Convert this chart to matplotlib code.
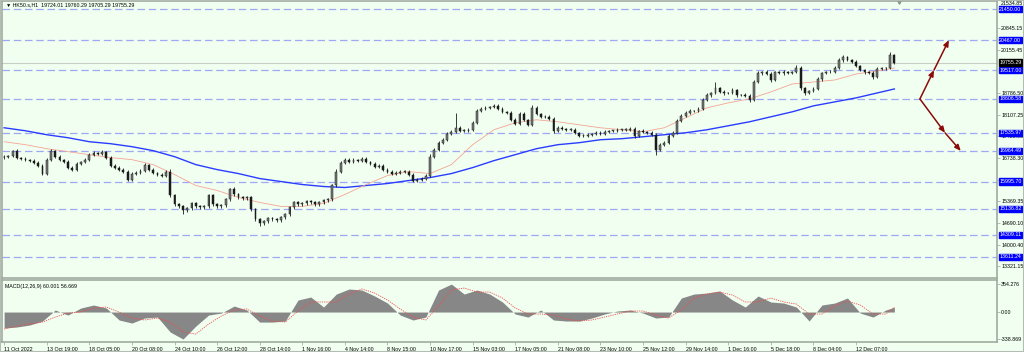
import matplotlib
matplotlib.use('Agg')
import matplotlib.pyplot as plt
import matplotlib.transforms as mtransforms
from matplotlib.patches import Rectangle
import numpy as np

plt.rcParams['font.family'] = ['Liberation Sans', 'DejaVu Sans']

# HK50 H1 closes (one value per bar)
close = [16783, 16815, 16972, 16752, 16720, 16689, 16657, 16594, 16500, 16248,
         16689, 16972, 16783, 16689, 16626, 16437, 16374, 16563, 16626, 16689,
         16846, 16909, 16878, 16941, 16752, 16500, 16437, 16374, 16311, 16059,
         16248, 16280, 16343, 16531, 16374, 16280, 16217, 16185, 16311, 15556,
         15273, 15210, 15084, 15147, 15304, 15210, 15178, 15210, 15556, 15273,
         15210, 15241, 15430, 15776, 15588, 15493, 15462, 15493, 15115, 14801,
         14675, 14738, 14832, 14801, 14769, 14863, 14958, 15178, 15336, 15273,
         15304, 15367, 15336, 15273, 15336, 15399, 15430, 15871, 16311, 16594,
         16689, 16626, 16689, 16657, 16720, 16626, 16563, 16468, 16500, 16374,
         16311, 16248, 16280, 16311, 16311, 16217, 16028, 16059, 16091, 16185,
         16783, 17003, 17224, 17318, 17507, 17570, 17696, 17601, 17601, 17633,
         17853, 18231, 18294, 18325, 18357, 18388, 18294, 18199, 18168, 17948,
         17822, 18136, 17948, 17790, 18325, 18136, 18042, 18042, 17979, 17601,
         17696, 17664, 17633, 17633, 17538, 17444, 17444, 17476, 17507, 17538,
         17507, 17570, 17601, 17601, 17633, 17633, 17633, 17664, 17444, 17601,
         17570, 17538, 17476, 17003, 17161, 17224, 17444, 17538, 17916, 18073,
         18168, 18231, 18231, 18294, 18577, 18734, 18797, 18955, 18829, 18797,
         18797, 18892, 18734, 18734, 18703, 18577, 19143, 19427, 19458, 19395,
         19206, 19458, 19427, 19458, 19427, 19458, 19584, 18955, 18797, 18860,
         18923, 19238, 19427, 19458, 19458, 19584, 19836, 19930, 19836, 19773,
         19647, 19521, 19458, 19427, 19301, 19553, 19584, 19584, 19993, 19755]
first_open = 16760
wick_up = [40, 35, 30, 45, 30, 40, 35, 50, 40, 45,
           60, 40, 35, 45, 30, 40, 55, 45, 35, 50,
           40, 45, 35, 40, 30, 45, 40, 35, 50, 40,
           45, 35, 40, 50, 35, 40, 30, 45, 40, 70,
           50, 40, 45, 35, 50, 40, 35, 45, 40, 55,
           40, 45, 50, 30, 40, 35, 45, 40, 50, 45,
           40, 35, 50, 40, 45, 35, 50, 60, 45, 40,
           35, 50, 40, 45, 35, 40, 50, 60, 70, 55,
           45, 40, 50, 35, 45, 40, 35, 50, 40, 45,
           35, 40, 45, 35, 50, 40, 35, 45, 40, 60,
           70, 60, 50, 55, 45, 50, 470, 60, 45, 50,
           60, 60, 45, 50, 40, 60, 45, 50, 40, 55,
           60, 45, 50, 40, 95, 45, 40, 50, 45, 60,
           45, 40, 35, 45, 40, 35, 45, 40, 35, 45,
           40, 45, 35, 40, 45, 35, 40, 50, 45, 40,
           45, 35, 40, 50, 60, 45, 55, 50, 60, 45,
           50, 45, 40, 55, 60, 50, 45, 188, 45, 50,
           40, 55, 45, 40, 50, 45, 60, 55, 45, 50,
           60, 45, 40, 50, 45, 40, 95, 50, 45, 40,
           60, 55, 45, 40, 50, 55, 60, 60, 45, 40,
           50, 45, 40, 45, 50, 55, 40, 45, 95, 40]
wick_dn = [45, 40, 50, 35, 40, 45, 35, 40, 50, 30,
           40, 45, 50, 35, 45, 40, 35, 45, 40, 35,
           45, 35, 40, 45, 50, 40, 35, 45, 50, 40,
           40, 45, 35, 40, 50, 45, 40, 35, 45, 60,
           60, 50, 120, 45, 40, 50, 45, 40, 50, 45,
           45, 40, 35, 45, 50, 40, 45, 40, 55, 60,
           95, 50, 40, 45, 50, 40, 45, 40, 50, 45,
           40, 45, 35, 40, 50, 45, 40, 35, 40, 45,
           40, 50, 35, 45, 40, 45, 50, 40, 45, 50,
           45, 40, 50, 45, 40, 55, 60, 45, 50, 40,
           45, 50, 40, 45, 50, 40, 45, 50, 45, 40,
           45, 40, 50, 45, 40, 45, 50, 40, 45, 50,
           45, 50, 40, 45, 50, 45, 40, 45, 50, 60,
           45, 40, 50, 45, 40, 50, 45, 40, 45, 50,
           45, 40, 50, 45, 40, 45, 50, 40, 60, 45,
           40, 45, 50, 157, 50, 45, 40, 45, 50, 40,
           45, 40, 50, 45, 40, 45, 50, 40, 45, 50,
           45, 40, 50, 45, 40, 63, 45, 40, 50, 45,
           50, 40, 45, 50, 40, 45, 40, 60, 55, 45,
           40, 45, 50, 40, 45, 40, 45, 50, 40, 45,
           45, 40, 50, 45, 55, 40, 45, 50, 40, 45]

# moving averages, every 5th bar plus the last one
ma_idx = np.r_[np.arange(0, 210, 5), 209]
ma_fast = [17255, 17161, 17035, 16941, 16846, 16752, 16689, 16531, 16217, 15871,
           15714, 15493, 15336, 15210, 15210, 15304, 15588, 15902, 16185, 16311,
           16248, 16531, 17161, 17633, 17853, 17948, 17885, 17790, 17696, 17633,
           17570, 17696, 18011, 18325, 18483, 18608, 18829, 19080, 19143, 19206,
           19395, 19490, 19584]
ma_slow = [17696, 17601, 17476, 17381, 17255, 17192, 17098, 16972, 16783, 16531,
           16374, 16248, 16091, 15996, 15902, 15839, 15808, 15871, 15934, 16028,
           16122, 16248, 16437, 16657, 16846, 17035, 17161, 17224, 17318, 17350,
           17412, 17476, 17538, 17633, 17759, 17885, 18042, 18199, 18388, 18514,
           18640, 18797, 18923]

# MACD(12,26,9), every 3rd bar plus the last one
macd_idx = np.r_[np.arange(0, 210, 3), 209]
macd = [-200, -188, -163, -113, 25, -38, 50, 88, 50, -100,
        -138, -75, -63, -251, -339, -176, -38, -13, 75, 25,
        -126, -126, -113, 151, 188, 63, 226, 289, 276, 201,
        113, -38, -100, -63, 276, 351, 226, 276, 226, 126,
        -25, -63, 25, -100, -113, -113, -75, -25, 13, 25,
        -13, -75, -63, 176, 226, 238, 264, 151, 63, 201,
        126, 113, 63, -113, 88, 113, 176, -13, -63, 25,
        60]
signal = [-213, -176, -151, -126, -63, -13, 0, 50, 63, 0,
          -75, -100, -75, -126, -251, -276, -151, -50, 25, 38,
          -50, -113, -126, 13, 126, 126, 126, 226, 289, 238,
          151, 38, -63, -100, 75, 276, 301, 251, 251, 176,
          50, -25, -25, -38, -88, -113, -100, -63, -25, 13,
          13, -38, -75, 25, 176, 226, 251, 213, 126, 126,
          176, 126, 100, -25, -25, 75, 138, 88, -25, -25,
          57]

levels = [21450.00, 20467.00, 19517.00, 18606.58, 17535.97, 16964.49,
          15995.70, 15136.82, 14309.11, 13611.24]
price_ticks = [20845.15, 20155.45, 18786.50, 18107.25, 17428.00,
               16738.30, 16059.05, 15369.35, 14690.10, 14000.40, 13321.15]
top_tick = 21534.85
last_price = 19755.29
macd_ticks = [354.276, 0.0, -338.869]
macd_tick_labels = ['354.276', '0.00', '-338.869']

date_labels = ['11 Oct 2022', '13 Oct 19:00', '18 Oct 05:00', '20 Oct 08:00',
               '24 Oct 10:00', '26 Oct 12:00', '28 Oct 14:00', '1 Nov 16:00',
               '4 Nov 14:00', '8 Nov 15:00', '10 Nov 17:00', '15 Nov 03:00',
               '17 Nov 05:00', '21 Nov 08:00', '23 Nov 10:00', '25 Nov 12:00',
               '29 Nov 14:00', '1 Dec 16:00', '5 Dec 18:00', '8 Dec 04:00',
               '12 Dec 07:00']
bars_per_label = 10

# projected paths: bars after the last candle, price levels
arrow_up = ([6, 9.3, 12.8], [18606.58, 19517.00, 20467.00])
arrow_dn = ([6, 11.9, 15.6], [18606.58, 17535.97, 16964.49])

BG = '#f0fff0'
GRID = '#9aa49a'
FS = 3.8

fig = plt.figure(figsize=(10.24, 3.52), dpi=100, facecolor=BG)
W, H = 1024, 352
ax = fig.add_axes([2 / W, 1 - 278 / H, 995 / W, 277 / H], facecolor=BG)
ax2 = fig.add_axes([2 / W, 1 - 342 / H, 995 / W, 62 / H], facecolor=BG, sharex=ax)

n = len(close)
idx = np.arange(n)
close_a = np.array(close, dtype=float)
open_a = np.r_[first_open, close_a[:-1]]
top = np.maximum(open_a, close_a)
bot = np.minimum(open_a, close_a)
high = top + np.array(wick_up)
low = bot - np.array(wick_dn)

# levels
for lv in levels:
    ax.axhline(lv, color='#a0a8f6', lw=0.9, ls=(0, (6, 3)), zorder=1)
ax.axhline(last_price, color='#c6cec6', lw=0.8, zorder=1)

ax.plot(ma_idx, ma_slow, color='#2a3cff', lw=1.0, zorder=3)
ax.plot(ma_idx, ma_fast, color='#f4a494', lw=0.6, zorder=3)

ax.vlines(idx, low, high, color='#1a1a1a', lw=0.6, zorder=4)
body = np.maximum(top - bot, 10)
up = close_a >= open_a
ax.bar(idx[up], body[up], bottom=bot[up], width=0.42, facecolor='#7a7a7a',
       edgecolor='#1a1a1a', lw=0.35, zorder=5)
ax.bar(idx[~up], body[~up], bottom=bot[~up], width=0.42, facecolor='#1a1a1a',
       edgecolor='#1a1a1a', lw=0.35, zorder=5)

# projection arrows
for xs, ys in (arrow_up, arrow_dn):
    xs = [n - 1 + v for v in xs]
    for k in range(2):
        ax.annotate('', xy=(xs[k + 1], ys[k + 1]), xytext=(xs[k], ys[k]),
                    arrowprops=dict(arrowstyle='-|>,head_length=0.35,head_width=0.15',
                                    color='#8b0a0a', lw=1.1, shrinkA=0, shrinkB=0),
                    zorder=6)

ax.set_xlim(-0.5, 233.1)
ax.set_ylim(12947, 21703)

# right price scale
ax.yaxis.tick_right()
ax.set_yticks(price_ticks)
ax.set_yticklabels([f'{v:.2f}' for v in price_ticks])
ax.tick_params(axis='y', labelsize=FS, length=2, width=0.5, color=GRID, pad=1)
ax.tick_params(axis='x', bottom=False, labelbottom=False)
trans = mtransforms.blended_transform_factory(ax.transAxes, ax.transData)
ax.text(1.0035, top_tick, f'{top_tick:.2f}', fontsize=FS, va='center', ha='left',
        clip_on=False, transform=mtransforms.offset_copy(trans, fig, y=3, units='dots'))
for lv in levels:
    ax.text(1.0022, lv, f'{lv:.2f}', transform=trans, fontsize=FS, color='white',
            va='center', ha='left', clip_on=False, zorder=10,
            bbox=dict(boxstyle='square,pad=0.12', fc='#0000ff', ec='#0000ff'))
ax.text(1.0022, last_price, f'{last_price:.2f}', transform=trans, fontsize=FS,
        color='white', va='center', ha='left', clip_on=False, zorder=10,
        bbox=dict(boxstyle='square,pad=0.12', fc='black', ec='black'))

ax.text(0.004, 1 - 4 / 277, '\u25bc HK50.s,H1  19724.01 19760.29 19705.29 19755.29',
        transform=ax.transAxes, fontsize=FS, va='center', ha='left')
ax.plot([210.1], [0.995], marker='v', ms=2.5, color='#8c948c',
        transform=mtransforms.blended_transform_factory(ax.transData, ax.transAxes),
        clip_on=False)

# MACD panel
ax2.fill_between(macd_idx, 0, macd, color='#878787', lw=0, zorder=2)
ax2.plot(macd_idx, signal, color='#ee5050', lw=0.6, ls=(0, (1.5, 1.2)), zorder=3)
ax2.set_ylim(-376, 402)
ax2.yaxis.tick_right()
ax2.set_yticks(macd_ticks)
ax2.set_yticklabels(macd_tick_labels)
ax2.tick_params(axis='y', labelsize=FS, length=2, width=0.5, color=GRID, pad=1)
ax2.text(0.003, 0.93, 'MACD(12,26,9) 60.001 56.669', transform=ax2.transAxes,
         fontsize=FS, va='top', ha='left')

ax2.set_xticks(np.arange(len(date_labels)) * bars_per_label)
ax2.set_xticklabels(date_labels, ha='left')
ax2.tick_params(axis='x', labelsize=FS, length=2.5, width=0.5, color=GRID, pad=0.8)

for a in (ax, ax2):
    for s in a.spines.values():
        s.set_color(GRID)
        s.set_linewidth(1.1)

fig.patches.append(Rectangle((0, 0), 1, 1, transform=fig.transFigure, fill=False,
                             ec='#b4bcb4', lw=1.5))

fig.savefig('out.png', dpi=100, facecolor=BG)
